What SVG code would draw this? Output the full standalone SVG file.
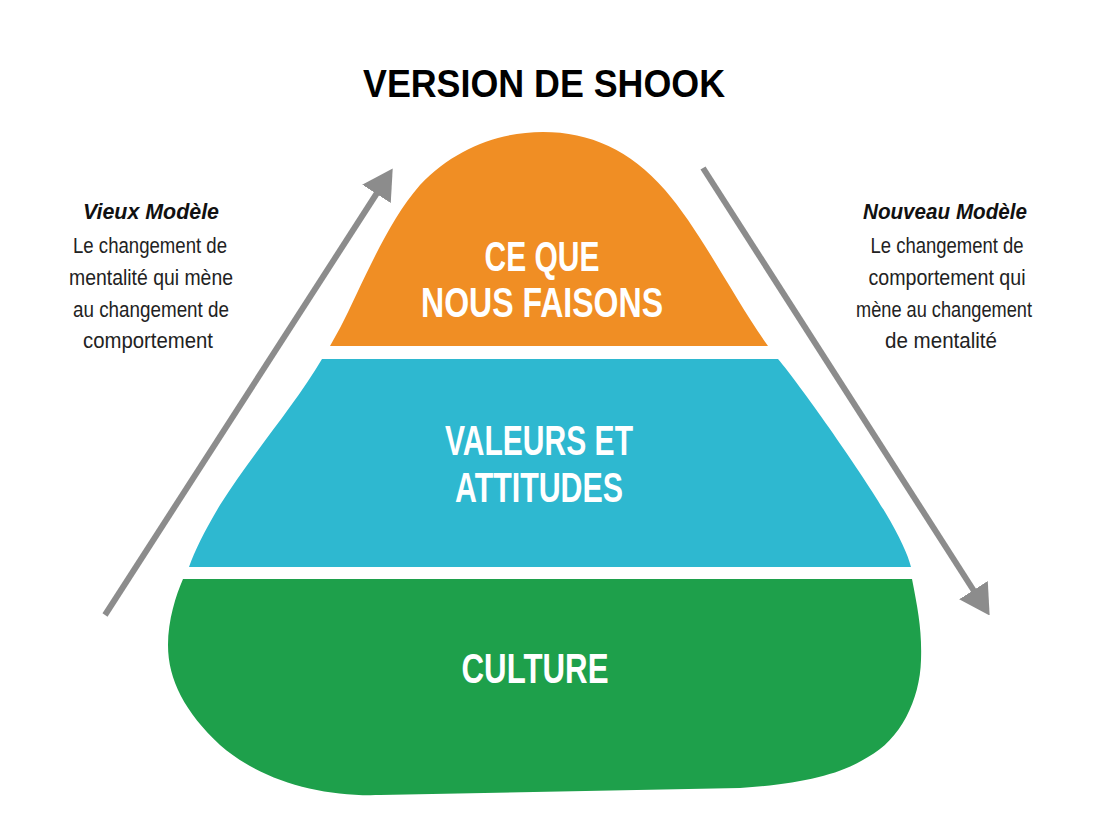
<svg xmlns="http://www.w3.org/2000/svg" width="1103" height="838" viewBox="0 0 1103 838">
  <style>
    .title { font-family: "Liberation Sans", Arial, sans-serif; font-weight: bold; font-size: 38px; fill: #000; }
    .big { font-family: "Liberation Sans", Arial, sans-serif; font-weight: bold; font-size: 43px; fill: #fff; }
    .head { font-family: "Liberation Sans", Arial, sans-serif; font-weight: bold; font-style: italic; font-size: 22px; fill: #111; }
    .body { font-family: "Liberation Sans", Arial, sans-serif; font-size: 22px; fill: #222; }
    .conn { stroke: #8c8c8c; stroke-width: 6; fill: none; }
  </style>
  <defs>
    <marker id="ah" markerUnits="userSpaceOnUse" markerWidth="30" markerHeight="34" viewBox="0 0 30 34" refX="1" refY="17" orient="auto">
      <path d="M0,0 L30,17 L0,34 Z" fill="#8c8c8c"/>
    </marker>
  </defs>
  <rect width="1103" height="838" fill="#fff"/>

  <text class="title" x="544" y="97" text-anchor="middle" textLength="362" lengthAdjust="spacingAndGlyphs">VERSION DE SHOOK</text>

  <g id="node-top">
    <path d="M330,346 L340,328 C360,290 385,225 420,185 C455,148 500,132 543,132 C590,132 630,150 665,190 C700,230 735,300 768,346 Z" fill="#F08E24"/>
    <text class="big" x="542" y="271" text-anchor="middle" textLength="115" lengthAdjust="spacingAndGlyphs">CE QUE</text>
    <text class="big" x="542" y="317" text-anchor="middle" textLength="242" lengthAdjust="spacingAndGlyphs">NOUS FAISONS</text>
  </g>

  <g id="node-middle">
    <path d="M322,359 L778,359 C800,385 860,470 885,512 C900,537 908,555 911,567 L189,567 C195,550 205,530 220,505 C255,450 295,405 322,359 Z" fill="#2EB8D0"/>
    <text class="big" x="539" y="455" text-anchor="middle" textLength="188" lengthAdjust="spacingAndGlyphs">VALEURS ET</text>
    <text class="big" x="539" y="502" text-anchor="middle" textLength="168" lengthAdjust="spacingAndGlyphs">ATTITUDES</text>
  </g>

  <g id="node-bottom">
    <path d="M183,579 L912,579 C918,610 922,630 921,660 C920,700 900,740 868,757 C840,775 800,784 740,788 L380,795 C320,797 260,780 220,745 C185,712 168,680 168,645 C168,620 176,595 183,579 Z" fill="#1EA04B"/>
    <text class="big" x="535" y="683" text-anchor="middle" textLength="147" lengthAdjust="spacingAndGlyphs">CULTURE</text>
  </g>

  <g id="connectors">
    <line class="conn" x1="105" y1="615" x2="377" y2="193" marker-end="url(#ah)"/>
    <line class="conn" x1="703" y1="168" x2="974" y2="591" marker-end="url(#ah)"/>
  </g>

  <g id="label-left">
    <text class="head" x="151" y="219" text-anchor="middle" textLength="136" lengthAdjust="spacingAndGlyphs">Vieux Modèle</text>
    <text class="body" x="150" y="253" text-anchor="middle" textLength="154" lengthAdjust="spacingAndGlyphs">Le changement de</text>
    <text class="body" x="151" y="285" text-anchor="middle" textLength="164" lengthAdjust="spacingAndGlyphs">mentalité qui mène</text>
    <text class="body" x="151" y="317" text-anchor="middle" textLength="156" lengthAdjust="spacingAndGlyphs">au changement de</text>
    <text class="body" x="148" y="348" text-anchor="middle" textLength="130" lengthAdjust="spacingAndGlyphs">comportement</text>
  </g>

  <g id="label-right">
    <text class="head" x="945" y="219" text-anchor="middle" textLength="164" lengthAdjust="spacingAndGlyphs">Nouveau Modèle</text>
    <text class="body" x="947" y="253" text-anchor="middle" textLength="153" lengthAdjust="spacingAndGlyphs">Le changement de</text>
    <text class="body" x="947" y="285" text-anchor="middle" textLength="157" lengthAdjust="spacingAndGlyphs">comportement qui</text>
    <text class="body" x="944" y="317" text-anchor="middle" textLength="176" lengthAdjust="spacingAndGlyphs">mène au changement</text>
    <text class="body" x="941" y="348" text-anchor="middle" textLength="112" lengthAdjust="spacingAndGlyphs">de mentalité</text>
  </g>
</svg>
